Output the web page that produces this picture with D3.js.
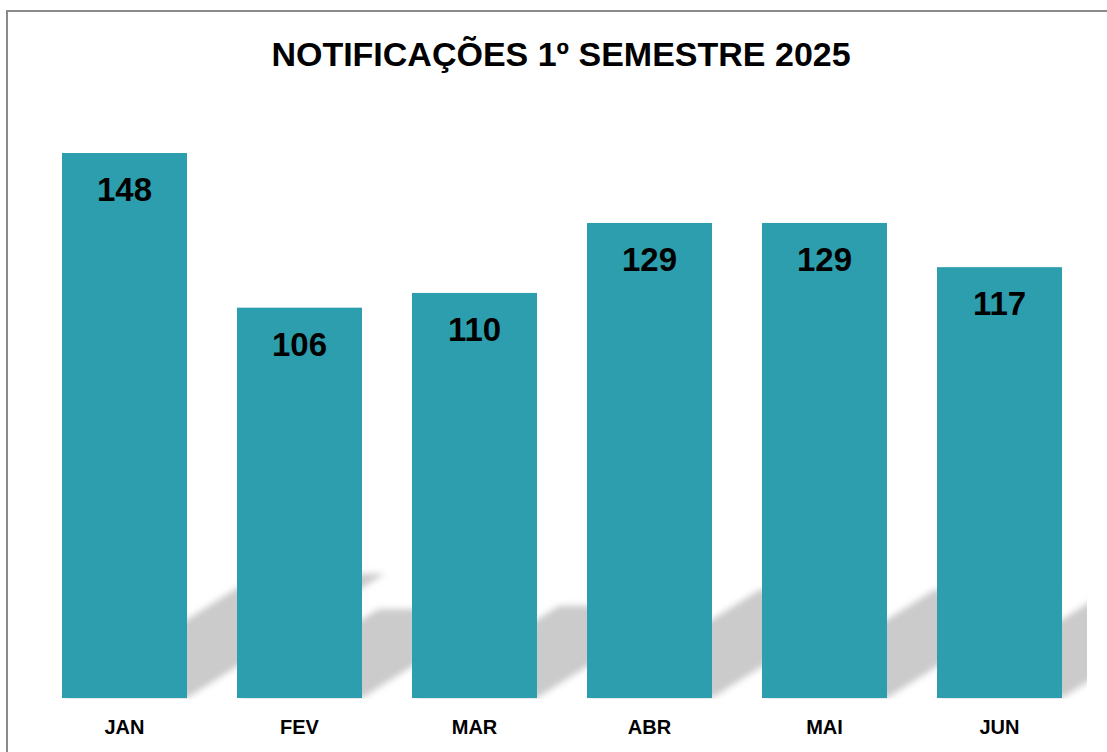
<!DOCTYPE html>
<html>
<head>
<meta charset="utf-8">
<script src="https://cdn.jsdelivr.net/npm/d3@7"></script>
<style>
  body { margin: 0; background: #fff; }
  svg { display: block; font-family: "Liberation Sans", Arial, sans-serif; }
</style>
</head>
<body>
<svg id="chart" width="1107" height="752"></svg>
<script>
const months = ["JAN", "FEV", "MAR", "ABR", "MAI", "JUN"];
const notificacoes = [148, 106, 110, 129, 129, 117];
const titulo = "NOTIFICAÇÕES 1º SEMESTRE 2025";

const data = months.map((m, i) => ({ month: m, value: notificacoes[i] }));

let svg = d3.select("#chart"),
  baseY = 698;

let xScale = d3.scaleBand().domain(months).range([37, 1087])
    .paddingInner(50 / 175).paddingOuter(25 / 175),
  yScale = d3.scaleLinear().domain([0, 148]).range([baseY, 153]);

// outer frame (cut off on the right and bottom)
svg.append("rect")
  .attr("x", 7).attr("y", 11)
  .attr("width", 1120).attr("height", 760)
  .attr("fill", "#fff")
  .attr("stroke", "#8a8a8a")
  .attr("stroke-width", 2);

const defs = svg.append("defs");
defs.append("filter").attr("id", "blur")
  .attr("x", "-10%").attr("y", "-10%").attr("width", "120%").attr("height", "120%")
  .append("feGaussianBlur").attr("stdDeviation", 3);
defs.append("clipPath").attr("id", "plot-clip")
  .append("rect").attr("x", 37).attr("y", 100).attr("width", 1050).attr("height", baseY - 100 + 1);

// perspective shadows behind bars
svg.append("g")
  .attr("clip-path", "url(#plot-clip)")
  .append("g")
  .attr("filter", "url(#blur)")
  .selectAll("polygon")
  .data(data)
  .enter()
  .append("polygon")
  .attr("fill", "#cbcbcb")
  .attr("points", function (d) {
    const x0 = xScale(d.month), x1 = x0 + xScale.bandwidth();
    const h = baseY - yScale(d.value);
    const dx = h * 0.363, dy = h * 0.228;
    return [[x0, baseY], [x1, baseY], [x1 + dx, baseY - dy], [x0 + dx, baseY - dy]]
      .map((p) => p.join(",")).join(" ");
  });

svg.selectAll(".bar")
  .data(data)
  .enter()
  .append("rect")
  .attr("class", "bar")
  .attr("x", (d) => xScale(d.month))
  .attr("y", (d) => yScale(d.value))
  .attr("width", xScale.bandwidth())
  .attr("height", (d) => baseY - yScale(d.value))
  .attr("fill", "#2c9ead");

// value labels inside the top of each bar
svg.selectAll(".nums")
  .data(data)
  .enter()
  .append("text")
  .attr("class", "nums")
  .attr("x", (d) => xScale(d.month) + xScale.bandwidth() / 2)
  .attr("y", (d) => yScale(d.value) + 48)
  .attr("text-anchor", "middle")
  .attr("font-size", "33px")
  .attr("font-weight", "bold")
  .attr("fill", "#000")
  .text((d) => d.value);

// month axis labels
svg.append("g")
  .attr("transform", "translate(0," + baseY + ")")
  .call(d3.axisBottom(xScale).tickSize(0).tickPadding(22))
  .call((g) => g.select(".domain").remove())
  .selectAll("text")
  .attr("font-family", "Liberation Sans, Arial, sans-serif")
  .attr("font-size", "20px")
  .attr("font-weight", "bold")
  .attr("fill", "#000");

svg.append("text")
  .attr("x", 561)
  .attr("y", 66)
  .attr("text-anchor", "middle")
  .attr("font-size", "34px")
  .attr("font-weight", "bold")
  .attr("fill", "#000")
  .text(titulo);
</script>
</body>
</html>
